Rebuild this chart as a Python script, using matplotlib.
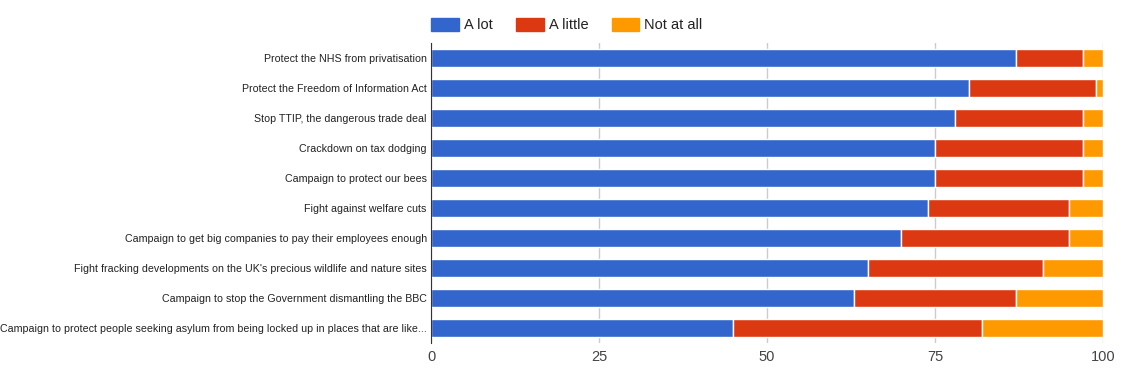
import matplotlib.pyplot as plt
from matplotlib.patches import Patch

# data (percent of respondents)
campaigns = [
    "Protect the NHS from privatisation",
    "Protect the Freedom of Information Act",
    "Stop TTIP, the dangerous trade deal",
    "Crackdown on tax dodging",
    "Campaign to protect our bees",
    "Fight against welfare cuts",
    "Campaign to get big companies to pay their employees enough",
    "Fight fracking developments on the UK's precious wildlife and nature sites",
    "Campaign to stop the Government dismantling the BBC",
    "Campaign to protect people seeking asylum from being locked up in places that are like...",
]
a_lot = [87, 80, 78, 75, 75, 74, 70, 65, 63, 45]
a_little = [10, 19, 19, 22, 22, 21, 25, 26, 24, 37]
not_at_all = [3, 1, 3, 3, 3, 5, 5, 9, 13, 18]
ticks = [0, 25, 50, 75, 100]

plt.rcParams['font.family'] = ['Liberation Sans', 'DejaVu Sans']

fig = plt.figure(figsize=(11.21, 3.70), dpi=100)
ax = fig.add_axes([431 / 1121, 1 - 343 / 370, 672 / 1121, 300 / 370])

y = list(range(len(campaigns)))
left2 = [a + b for a, b in zip(a_lot, a_little)]
kw = dict(height=0.6, edgecolor='white', linewidth=1)
ax.barh(y, a_lot, color='#3366cc', **kw)
ax.barh(y, a_little, left=a_lot, color='#dc3912', **kw)
ax.barh(y, not_at_all, left=left2, color='#ff9900', **kw)

ax.set_xlim(0, 100)
ax.set_ylim(9.5, -0.5)
ax.set_yticks(y)
ax.set_yticklabels(campaigns, fontsize=7.7, color='#222222')
ax.set_xticks(ticks)
ax.set_xticklabels([str(t) for t in ticks], fontsize=10.5, color='#444444')
ax.tick_params(axis='y', length=0, pad=3)
ax.tick_params(axis='x', length=0, pad=5)

for s in ['top', 'right', 'bottom']:
    ax.spines[s].set_visible(False)
ax.spines['left'].set_color('#333333')
ax.grid(axis='x', color='#cccccc', linewidth=1)
ax.set_axisbelow(True)

handles = [Patch(color='#3366cc', label='A lot'),
           Patch(color='#dc3912', label='A little'),
           Patch(color='#ff9900', label='Not at all')]
fig.legend(handles=handles, loc='center left', bbox_to_anchor=(431 / 1121, 1 - 25 / 370),
           ncol=3, frameon=False, fontsize=10.5, handlelength=1.9, handleheight=1.0,
           columnspacing=1.6, handletextpad=0.35, borderpad=0, borderaxespad=0,
           labelcolor='#222222')

fig.savefig('out.png', dpi=100)
